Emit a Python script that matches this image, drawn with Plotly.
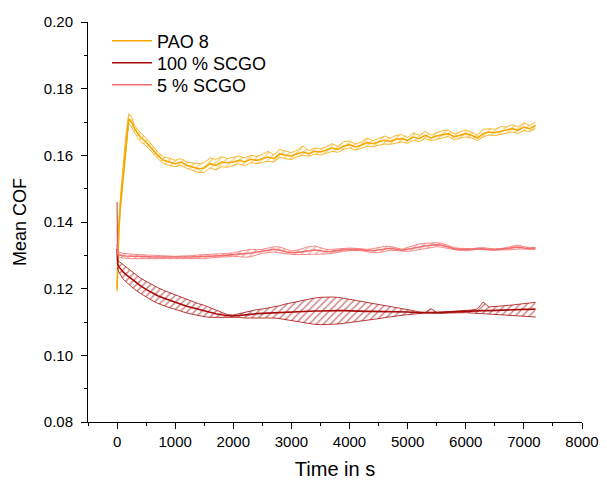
import plotly.graph_objects as go

time_s = [0, 10, 30, 60, 100, 150, 200, 250, 300] + list(range(400, 7201, 100))

pao_mean = [0.120, 0.128, 0.138, 0.146, 0.153, 0.163, 0.171, 0.170, 0.168,
            0.1655, 0.164, 0.162, 0.160, 0.1585, 0.158, 0.1575, 0.158, 0.157, 0.1565,
            0.156, 0.1562, 0.1575, 0.157, 0.158, 0.1578, 0.158, 0.1585, 0.158, 0.1588,
            0.1585, 0.159, 0.1595, 0.159, 0.1605, 0.160, 0.1598, 0.1605, 0.161, 0.1605,
            0.1612, 0.161, 0.1615, 0.1622, 0.1618, 0.1628, 0.1632, 0.1625, 0.163, 0.1638,
            0.1635, 0.164, 0.1645, 0.1642, 0.1648, 0.165, 0.1645, 0.1655, 0.165, 0.166,
            0.1652, 0.1658, 0.1662, 0.1665, 0.1655, 0.166, 0.1665, 0.166, 0.1652, 0.1665,
            0.167, 0.1668, 0.1672, 0.1675, 0.168, 0.1675, 0.1685, 0.168, 0.169]
pao_upper = [0.121, 0.130, 0.140, 0.148, 0.156, 0.166, 0.1725, 0.1715, 0.169,
             0.1668, 0.1652, 0.163, 0.161, 0.1595, 0.1592, 0.1585, 0.159, 0.158, 0.1578,
             0.1575, 0.1578, 0.1592, 0.1588, 0.1596, 0.159, 0.1594, 0.1598, 0.1592, 0.160,
             0.1597, 0.1603, 0.1612, 0.1602, 0.1618, 0.1612, 0.1608, 0.1616, 0.1628, 0.1614,
             0.1622, 0.1620, 0.1625, 0.1635, 0.1627, 0.1641, 0.1643, 0.1634, 0.1640, 0.1652,
             0.1644, 0.1650, 0.1658, 0.1651, 0.1660, 0.1662, 0.1654, 0.1668, 0.1660, 0.1672,
             0.1661, 0.1668, 0.1674, 0.1676, 0.1664, 0.1670, 0.1676, 0.1669, 0.1661, 0.1678,
             0.1680, 0.1678, 0.1686, 0.1685, 0.1692, 0.1685, 0.1698, 0.1690, 0.1700]
pao_lower = [0.119, 0.126, 0.136, 0.144, 0.151, 0.160, 0.1695, 0.1685, 0.1668,
             0.1642, 0.1628, 0.1610, 0.1590, 0.1576, 0.1569, 0.1566, 0.1570, 0.1561, 0.1554,
             0.1548, 0.1549, 0.1562, 0.1556, 0.1566, 0.1564, 0.1568, 0.1574, 0.1569, 0.1578,
             0.1575, 0.1579, 0.1582, 0.1580, 0.1594, 0.1590, 0.1587, 0.1596, 0.1600, 0.1597,
             0.1604, 0.1601, 0.1607, 0.1612, 0.1609, 0.1618, 0.1622, 0.1616, 0.1621, 0.1627,
             0.1626, 0.1631, 0.1634, 0.1633, 0.1637, 0.1640, 0.1636, 0.1645, 0.1641, 0.1650,
             0.1644, 0.1649, 0.1652, 0.1656, 0.1647, 0.1651, 0.1655, 0.1652, 0.1644, 0.1655,
             0.1661, 0.1659, 0.1663, 0.1666, 0.1670, 0.1666, 0.1674, 0.1671, 0.1680]

scgo100_mean = [0.132, 0.1274, 0.1266, 0.1259, 0.1251, 0.1243, 0.1236, 0.1228, 0.1221,
                0.1209, 0.1198, 0.1188, 0.1179, 0.1172, 0.1165, 0.1159, 0.1153, 0.1147, 0.1142,
                0.1137, 0.1133, 0.1129, 0.1125, 0.1121, 0.1119, 0.1118, 0.1119, 0.1121, 0.1123,
                0.1125, 0.1126, 0.1127, 0.1128, 0.1129, 0.1130, 0.1131, 0.1131, 0.1132, 0.1132,
                0.1133, 0.1133, 0.1134, 0.1134, 0.1134, 0.1134, 0.1133, 0.1133, 0.1132, 0.1132,
                0.1132, 0.1132, 0.1132, 0.1131, 0.1131, 0.1130, 0.1130, 0.1129, 0.1128, 0.1128,
                0.1128, 0.1128, 0.1129, 0.1129, 0.1130, 0.1130, 0.1131, 0.1132, 0.1133, 0.1134,
                0.1134, 0.1135, 0.1136, 0.1136, 0.1137, 0.1137, 0.1138, 0.1138, 0.1139]
scgo100_upper = [0.146, 0.1285, 0.1282, 0.1278, 0.1272, 0.1265, 0.1258, 0.1251, 0.1244,
                 0.1232, 0.1222, 0.1212, 0.1203, 0.1195, 0.1188, 0.1181, 0.1174, 0.1167, 0.1161,
                 0.1155, 0.1150, 0.1143, 0.1135, 0.1127, 0.1122, 0.1121, 0.1125, 0.1130, 0.1134,
                 0.1137, 0.1139, 0.1142, 0.1145, 0.1149, 0.1154, 0.1158, 0.1162, 0.1166, 0.1169,
                 0.1172, 0.1174, 0.1175, 0.1175, 0.1174, 0.1172, 0.1168, 0.1165, 0.1162, 0.1160,
                 0.1157, 0.1154, 0.1151, 0.1147, 0.1144, 0.1141, 0.1138, 0.1134, 0.1130, 0.1128,
                 0.1140, 0.1129, 0.1130, 0.1131, 0.1131, 0.1132, 0.1133, 0.1136, 0.1139, 0.1160,
                 0.1145, 0.1146, 0.1148, 0.1149, 0.1151, 0.1153, 0.1155, 0.1157, 0.1159]
scgo100_lower = [0.126, 0.1262, 0.1250, 0.1240, 0.1230, 0.1221, 0.1213, 0.1205, 0.1198,
                 0.1186, 0.1175, 0.1165, 0.1156, 0.1149, 0.1143, 0.1138, 0.1132, 0.1127, 0.1123,
                 0.1119, 0.1116, 0.1114, 0.1114, 0.1115, 0.1116, 0.1116, 0.1114, 0.1112, 0.1112,
                 0.1113, 0.1114, 0.1113, 0.1112, 0.1110, 0.1107, 0.1104, 0.1101, 0.1098, 0.1095,
                 0.1093, 0.1092, 0.1092, 0.1093, 0.1094, 0.1096, 0.1098, 0.1100, 0.1102, 0.1104,
                 0.1107, 0.1110, 0.1113, 0.1116, 0.1118, 0.1120, 0.1122, 0.1124, 0.1126, 0.1127,
                 0.1127, 0.1126, 0.1126, 0.1127, 0.1128, 0.1128, 0.1128, 0.1127, 0.1126, 0.1124,
                 0.1123, 0.1122, 0.1121, 0.1120, 0.1119, 0.1118, 0.1117, 0.1116, 0.1115]

scgo5_mean = [0.1335, 0.1305, 0.1302, 0.1300, 0.1299, 0.1298, 0.1298, 0.1297, 0.1297,
              0.1296, 0.1296, 0.1295, 0.1295, 0.1294, 0.1294, 0.1293, 0.1294, 0.1294, 0.1295,
              0.1296, 0.1296, 0.1297, 0.1298, 0.1299, 0.1300, 0.1302, 0.1304, 0.1305, 0.1307,
              0.1309, 0.1312, 0.1315, 0.1318, 0.1316, 0.1311, 0.1308, 0.1309, 0.1312, 0.1314,
              0.1316, 0.1314, 0.1311, 0.1312, 0.1315, 0.1317, 0.1318, 0.1318, 0.1317, 0.1315,
              0.1314, 0.1316, 0.1319, 0.1321, 0.1318, 0.1315, 0.1318, 0.1322, 0.1326, 0.1328,
              0.1330, 0.1332, 0.1330, 0.1325, 0.1320, 0.1318, 0.1317, 0.1318, 0.1320, 0.1320,
              0.1318, 0.1317, 0.1318, 0.1320, 0.1323, 0.1325, 0.1322, 0.1320, 0.1321]
scgo5_upper = [0.138, 0.1312, 0.1309, 0.1307, 0.1306, 0.1305, 0.1305, 0.1304, 0.1303,
               0.1302, 0.1301, 0.1300, 0.1300, 0.1299, 0.1298, 0.1297, 0.1298, 0.1298, 0.1299,
               0.1301, 0.1302, 0.1302, 0.1302, 0.1303, 0.1305, 0.1307, 0.1312, 0.1316, 0.1318,
               0.1317, 0.1318, 0.1322, 0.1326, 0.1325, 0.1318, 0.1313, 0.1316, 0.1322, 0.1326,
               0.1328, 0.1324, 0.1318, 0.1318, 0.1320, 0.1322, 0.1322, 0.1321, 0.1320, 0.1318,
               0.1320, 0.1324, 0.1327, 0.1327, 0.1322, 0.1318, 0.1324, 0.1330, 0.1334, 0.1336,
               0.1337, 0.1338, 0.1336, 0.1330, 0.1323, 0.1321, 0.1320, 0.1320, 0.1322, 0.1323,
               0.1321, 0.1319, 0.1320, 0.1324, 0.1329, 0.1331, 0.1326, 0.1323, 0.1324]
scgo5_lower = [0.130, 0.1298, 0.1295, 0.1293, 0.1292, 0.1291, 0.1291, 0.1290, 0.1290,
               0.1290, 0.1291, 0.1290, 0.1290, 0.1289, 0.1290, 0.1289, 0.1290, 0.1290, 0.1291,
               0.1291, 0.1290, 0.1292, 0.1294, 0.1295, 0.1295, 0.1297, 0.1296, 0.1294, 0.1296,
               0.1301, 0.1306, 0.1308, 0.1310, 0.1307, 0.1304, 0.1303, 0.1302, 0.1302, 0.1302,
               0.1304, 0.1304, 0.1304, 0.1306, 0.1310, 0.1312, 0.1314, 0.1315, 0.1314, 0.1311,
               0.1308, 0.1308, 0.1311, 0.1315, 0.1314, 0.1312, 0.1312, 0.1314, 0.1318, 0.1320,
               0.1323, 0.1326, 0.1324, 0.1320, 0.1317, 0.1315, 0.1314, 0.1316, 0.1318, 0.1317,
               0.1315, 0.1315, 0.1316, 0.1316, 0.1317, 0.1319, 0.1318, 0.1317, 0.1318]

series = [
    ("PAO 8", pao_mean, pao_upper, pao_lower, "#F5A800", "legend", 0.9525),
    ("100 % SCGO", scgo100_mean, scgo100_upper, scgo100_lower, "#A80A0A", "legend2", 0.8975),
    ("5 % SCGO", scgo5_mean, scgo5_upper, scgo5_lower, "#F56E6E", "legend3", 0.8425),
]

font = "Liberation Sans, Arial, sans-serif"
fig = go.Figure()
legends = {}
for name, mean, upper, lower, color, leg, ly in series:
    fig.add_trace(go.Scatter(x=time_s, y=lower, mode="lines", line=dict(color=color, width=0.8),
                             showlegend=False, hoverinfo="skip"))
    fig.add_trace(go.Scatter(x=time_s, y=upper, mode="lines", line=dict(color=color, width=0.8),
                             fill="tonexty", fillcolor="rgba(0,0,0,0)",
                             fillpattern=dict(shape="/", fgcolor=color, bgcolor="rgba(0,0,0,0)",
                                              size=5, solidity=0.3),
                             showlegend=False, hoverinfo="skip"))
    fig.add_trace(go.Scatter(x=time_s, y=mean, mode="lines", name=name, legend=leg,
                             line=dict(color=color, width=1.6)))
    legends[leg] = dict(x=0.0385, y=ly, xanchor="left", yanchor="middle",
                        bgcolor="rgba(0,0,0,0)", font=dict(size=18, family=font),
                        itemwidth=40, borderwidth=0)

fig.update_layout(
    width=607, height=483,
    margin=dict(l=88, r=25, t=22, b=61, autoexpand=False),
    paper_bgcolor="white", plot_bgcolor="white",
    font=dict(family=font, size=15, color="black"),
    **legends,
    xaxis=dict(range=[-500, 8000], tick0=0, dtick=1000, showline=True, linecolor="black",
               linewidth=1, ticks="outside", ticklen=6, tickcolor="black", showgrid=False,
               zeroline=False, automargin=False,
               title=dict(text="Time in s", font=dict(size=20), standoff=12),
               minor=dict(dtick=500, tick0=0, ticks="outside", ticklen=3, tickcolor="black")),
    yaxis=dict(range=[0.08, 0.20], dtick=0.02, tick0=0.08, tickformat=".2f", showline=True,
               linecolor="black", linewidth=1, ticks="outside", ticklen=6, tickcolor="black",
               showgrid=False, zeroline=False, automargin=False, ticklabelstandoff=5,
               title=dict(text="Mean COF", font=dict(size=18), standoff=12),
               minor=dict(dtick=0.01, ticks="outside", ticklen=3, tickcolor="black")),
)
fig.write_html("out.html")
